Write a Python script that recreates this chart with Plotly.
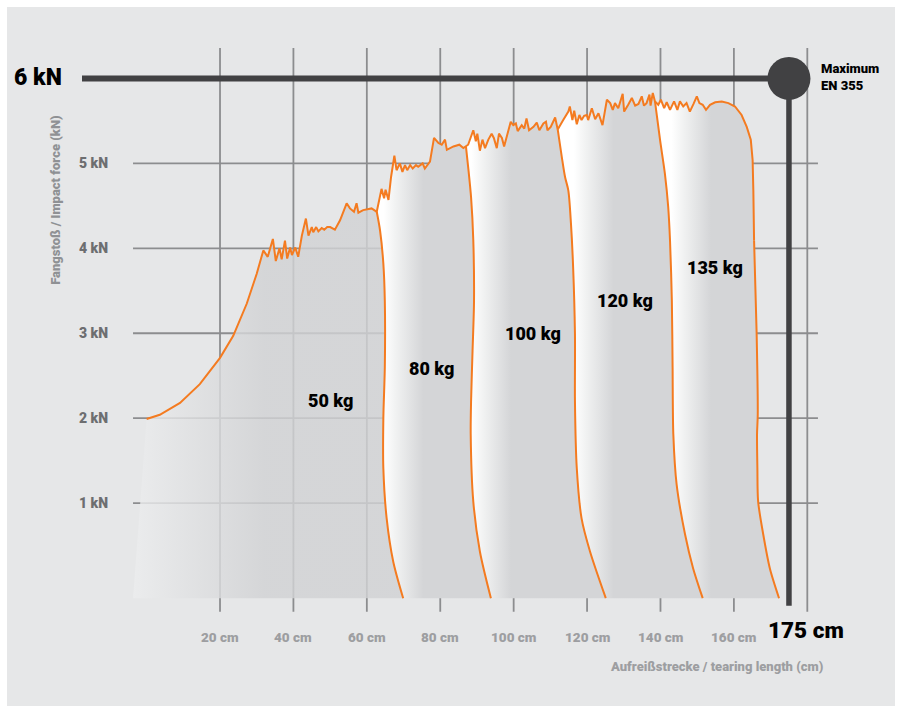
import plotly.graph_objects as go

# ---------------- data ----------------
y_ticks = [1, 2, 3, 4, 5]
y_tick_text = ["1 kN", "2 kN", "3 kN", "4 kN", "5 kN"]
x_grid = [20, 40, 60, 80, 100, 120, 140, 160, 180]
x_tick_text = ["20 cm", "40 cm", "60 cm", "80 cm", "100 cm", "120 cm", "140 cm", "160 cm", ""]

masses = ["50 kg", "80 kg", "100 kg", "120 kg", "135 kg"]

MAX_FORCE = 6      # kN
MAX_LENGTH = 175   # cm

top_50_x = [0, 3.6, 9.1, 14.5, 20.0, 23.6, 27.3, 30.0, 31.8, 33.0, 34.4, 35.2, 36.2, 36.8, 37.7, 38.3,
            39.1, 39.6, 40.5, 41.3, 42.3, 43.4, 44.1, 45.0, 45.4, 46.2, 46.8, 47.7, 48.4, 49.2, 50.0,
            51.3, 52.7, 54.5, 55.4, 56.5, 57.2, 57.7, 59.0, 61.3, 62.7]
top_50_y = [1.99, 2.04, 2.18, 2.40, 2.71, 2.97, 3.35, 3.70, 3.975, 3.90, 4.11, 3.85, 4.00, 3.87, 4.09, 3.88,
            4.01, 3.92, 4.01, 3.90, 4.15, 4.35, 4.15, 4.25, 4.19, 4.25, 4.20, 4.24, 4.22, 4.25, 4.25,
            4.22, 4.33, 4.53, 4.47, 4.43, 4.53, 4.42, 4.45, 4.47, 4.43]
edge_50_x = [62.7, 63.6, 64.5, 64.9, 64.9, 64.5, 64.5, 65.4, 67.2, 69.9]
edge_50_y = [4.43, 4.21, 3.82, 3.38, 2.60, 2.00, 1.41, 0.82, 0.31, -0.12]

top_80_x = [64.0, 64.7, 65.1, 65.9, 66.6, 67.5, 68.1, 69.0, 69.7, 70.4, 71.0, 71.8, 72.5, 73.4, 74.0,
            75.2, 75.8, 77.2, 78.3, 79.5, 80.4, 81.3, 81.8, 83.6, 85.2, 86.3, 87.0]
top_80_y = [4.70, 4.59, 4.69, 4.57, 4.84, 5.09, 4.92, 5.00, 4.90, 4.98, 4.92, 4.98, 4.94, 4.98, 4.96,
            5.00, 4.94, 5.02, 5.30, 5.24, 5.22, 5.28, 5.16, 5.20, 5.22, 5.18, 5.20]
edge_80_x = [87.0, 87.6, 88.4, 89.0, 89.2, 88.8, 88.4, 88.3, 89.0, 90.8, 93.8]
edge_80_y = [5.20, 4.96, 4.60, 4.10, 3.38, 2.79, 2.20, 1.81, 1.02, 0.43, -0.12]

top_100_x = [87.6, 89.0, 89.7, 90.1, 90.8, 91.5, 92.2, 93.1, 94.0, 94.6, 95.4, 96.0, 96.8, 97.4, 98.3,
             99.2, 99.9, 100.6, 101.1, 102.2, 102.9, 103.5, 104.2, 105.4, 106.3, 107.0, 108.1, 108.8,
             109.2, 110.1, 111.3, 112.0]
top_100_y = [5.22, 5.39, 5.26, 5.35, 5.15, 5.28, 5.18, 5.28, 5.35, 5.30, 5.18, 5.35, 5.30, 5.20, 5.35,
             5.49, 5.45, 5.47, 5.38, 5.45, 5.41, 5.53, 5.39, 5.43, 5.48, 5.39, 5.47, 5.49,
             5.39, 5.43, 5.54, 5.40]
edge_100_x = [112.0, 113.1, 114.0, 114.9, 115.6, 116.2, 116.7, 116.7, 117.2, 118.5, 120.8, 125.1]
edge_100_y = [5.40, 5.08, 4.84, 4.68, 4.30, 3.78, 2.99, 2.20, 1.41, 0.82, 0.43, -0.12]

top_120_x = [113.5, 114.9, 115.3, 116.0, 116.5, 117.2, 117.9, 118.5, 119.2, 119.9, 120.3, 121.3, 122.2,
             123.1, 124.2, 125.4, 126.3, 127.0, 127.6, 128.5, 129.7, 130.1, 131.2, 132.2, 133.1, 134.0,
             134.9, 135.5, 136.2, 137.0, 137.3, 137.9, 138.5]
top_120_y = [5.51, 5.61, 5.67, 5.51, 5.62, 5.46, 5.57, 5.51, 5.56, 5.57, 5.51, 5.65, 5.52,
             5.59, 5.45, 5.75, 5.71, 5.63, 5.71, 5.65, 5.82, 5.61, 5.69, 5.77, 5.68, 5.70,
             5.79, 5.68, 5.71, 5.81, 5.68, 5.83, 5.73]
edge_120_x = [138.5, 139.9, 141.2, 142.1, 142.6, 143.1, 143.3, 143.5, 144.4, 146.7, 148.9, 151.5]
edge_120_y = [5.73, 5.27, 4.88, 4.49, 4.09, 3.38, 2.60, 1.81, 1.22, 0.63, 0.23, -0.12]

top_135_x = [139.4, 140.1, 141.0, 141.7, 142.6, 143.7, 144.6, 145.3, 146.2, 147.1, 148.0, 149.0, 149.9,
             150.6, 151.5, 152.4, 153.5, 154.9, 156.7, 158.5, 160.3, 162.1, 163.5, 164.6, 165.1, 165.3, 165.5]
top_135_y = [5.69, 5.75, 5.65, 5.72, 5.63, 5.73, 5.63, 5.73, 5.67, 5.71, 5.61, 5.70, 5.79,
             5.71, 5.69, 5.63, 5.69, 5.72, 5.73, 5.71, 5.67, 5.57, 5.43, 5.28, 5.04, 4.68, 4.09]
edge_135_x = [165.5, 166.2, 166.5, 166.3, 166.4, 166.6, 168.0, 169.8, 172.3]
edge_135_y = [4.09, 2.99, 2.04, 1.81, 1.41, 1.02, 0.63, 0.23, -0.12]

tops = [(top_50_x, top_50_y), (top_80_x, top_80_y), (top_100_x, top_100_y),
        (top_120_x, top_120_y), (top_135_x, top_135_y)]
edges = [(edge_50_x, edge_50_y), (edge_80_x, edge_80_y), (edge_100_x, edge_100_y),
         (edge_120_x, edge_120_y), (edge_135_x, edge_135_y)]

# ---------------- style / layout ----------------
FONT = "Roboto, Liberation Sans, sans-serif"
HEAVY = 900
ORANGE = "#f47b20"
DARK = "#414143"
GRID = "#8c8d8f"
PANEL_GREY = "#d4d5d7"
BASE = -0.12  # bottom of the filled panels

W, H = 899, 709
PX_PER_CM = 3.6706
X0_PX = 146.6
PX_PER_KN = 84.92
Y0_PX = 588.0
x_range = [-X0_PX / PX_PER_CM, (W - X0_PX) / PX_PER_CM]
y_range = [(Y0_PX - H) / PX_PER_KN, Y0_PX / PX_PER_KN]

fig = go.Figure()

# filled panels
for i, ((tx, ty), (ex, ey)) in enumerate(zip(tops, edges)):
    if i == 0:
        px = [-3.7] + tx + ex
        py = [BASE] + ty + ey
        grad = dict(type="horizontal", start=-4, stop=32,
                    colorscale=[[0, "rgba(236,237,238,0.82)"], [1, "rgba(209,210,212,0.82)"]])
    else:
        pex, pey = edges[i - 1]
        px = [pex[0]] + tx + ex + pex[::-1]
        py = [pey[0]] + ty + ey + pey[::-1]
        xs = sorted(pex)[len(pex) // 2]
        grad = dict(type="horizontal", start=xs - 0.3, stop=xs + 10.5,
                    colorscale=[[0, "#ffffff"], [0.3, "#f1f2f2"], [1, PANEL_GREY]])
    fig.add_trace(go.Scatter(x=px, y=py, mode="lines", fill="toself", line=dict(width=0),
                             fillgradient=grad, hoverinfo="skip", showlegend=False))

# orange curves
all_top_x, all_top_y = [], []
for tx, ty in tops:
    all_top_x += tx
    all_top_y += ty
fig.add_trace(go.Scatter(x=all_top_x, y=all_top_y, mode="lines",
                         line=dict(color=ORANGE, width=2), hoverinfo="skip", showlegend=False))
for ex, ey in edges:
    fig.add_trace(go.Scatter(x=ex, y=ey, mode="lines",
                             line=dict(color=ORANGE, width=2, shape="spline", smoothing=0.8),
                             hoverinfo="skip", showlegend=False))

# maximum marker
fig.add_trace(go.Scatter(x=[-17.6, MAX_LENGTH], y=[MAX_FORCE, MAX_FORCE], mode="lines",
                         line=dict(color=DARK, width=6), hoverinfo="skip", showlegend=False))
fig.add_trace(go.Scatter(x=[MAX_LENGTH, MAX_LENGTH], y=[MAX_FORCE, -0.21], mode="lines",
                         line=dict(color=DARK, width=5.5), hoverinfo="skip", showlegend=False))
fig.add_trace(go.Scatter(x=[MAX_LENGTH], y=[MAX_FORCE], mode="markers",
                         marker=dict(color=DARK, size=43, line=dict(width=0)),
                         hoverinfo="skip", showlegend=False))

shapes = [dict(type="rect", xref="paper", yref="paper", x0=7 / W, x1=895 / W, y0=1 - 706 / H, y1=1 - 7 / H,
               fillcolor="#e6e7e8", line=dict(width=0), layer="below")]
for yv in y_ticks:
    shapes.append(dict(type="line", xref="x", yref="y", x0=-3.7, x1=182.9, y0=yv, y1=yv,
                       line=dict(color=GRID, width=1.8), layer="below"))
for xv in x_grid:
    shapes.append(dict(type="line", xref="x", yref="y", x0=xv, x1=xv, y0=6.36, y1=-0.28,
                       line=dict(color=GRID, width=1.8), layer="below"))

ann = []
for yv, t in zip(y_ticks, y_tick_text):
    ann.append(dict(x=-10.0, y=yv, text=t, xanchor="right", yanchor="middle", showarrow=False,
                    font=dict(family=FONT, size=14, color="#6d6e70", weight=HEAVY)))
for xv, t in zip(x_grid, x_tick_text):
    if t:
        ann.append(dict(x=xv, y=-0.577, text=t, xanchor="center", yanchor="middle", showarrow=False,
                        font=dict(family=FONT, size=13.5, color="#9d9ea1", weight=HEAVY)))
ann.append(dict(x=-22.4, y=MAX_FORCE, yshift=1, text=f"{MAX_FORCE} kN", xanchor="right", yanchor="middle",
                showarrow=False, font=dict(family=FONT, size=23, color="#000000", weight=HEAVY)))
ann.append(dict(x=MAX_LENGTH, y=-0.49, xshift=17, text=f"{MAX_LENGTH} cm", xanchor="center", yanchor="middle",
                showarrow=False, font=dict(family=FONT, size=22.5, color="#000000", weight=HEAVY)))
ann.append(dict(x=183.2, y=MAX_FORCE + 0.02, text="Maximum<br>EN 355", xanchor="left", yanchor="middle",
                align="left", showarrow=False,
                font=dict(family=FONT, size=13, color="#000000", weight=HEAVY)))
ann.append(dict(x=-24.7, y=4.57, text="Fangstoß / Impact force (kN)", textangle=-90, xanchor="center",
                yanchor="middle", showarrow=False,
                font=dict(family=FONT, size=13, color="#8f9194", weight=HEAVY)))
ann.append(dict(x=184.8, y=-0.93, text="Aufreißstrecke / tearing length (cm)", xanchor="right",
                yanchor="middle", showarrow=False,
                font=dict(family=FONT, size=13, color="#9d9ea1", weight=HEAVY)))
label_pos = [(50.0, 2.21), (77.5, 2.59), (105.3, 3.00), (130.3, 3.39), (154.9, 3.77)]
for (lx, ly), m in zip(label_pos, masses):
    ann.append(dict(x=lx, y=ly, text=m, xanchor="center", yanchor="middle", showarrow=False,
                    font=dict(family=FONT, size=18, color="#000000", weight=HEAVY)))

fig.update_layout(
    width=W, height=H, autosize=False,
    margin=dict(l=0, r=0, t=0, b=0, pad=0),
    paper_bgcolor="#ffffff", plot_bgcolor="#ffffff",
    xaxis=dict(range=x_range, visible=False, fixedrange=True),
    yaxis=dict(range=y_range, visible=False, fixedrange=True),
    shapes=shapes, annotations=ann, showlegend=False,
)

fig.write_html("out.html", config={"displayModeBar": False, "staticPlot": True},
               post_script="document.body.style.margin='0px';document.body.style.overflow='hidden';")
